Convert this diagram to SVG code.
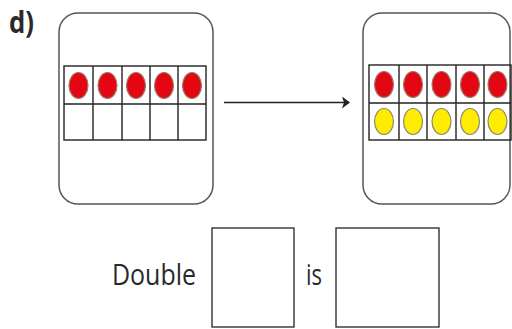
<svg xmlns="http://www.w3.org/2000/svg" width="512" height="329" viewBox="0 0 512 329">
<style>
.card{fill:#fff;stroke:#555;stroke-width:1.5}
.grid{fill:none;stroke:#222;stroke-width:1.4}
.red{fill:#e30613;stroke:#9a7a6a;stroke-width:1.2}
.yel{fill:#ffec00;stroke:#8a8a70;stroke-width:1.2}
.box{fill:#fff;stroke:#333;stroke-width:1.4}
.lbl{font-family:"Open Sans","DejaVu Sans",sans-serif;fill:#2a2a2a}
</style>
<defs>
<marker id="ah" markerWidth="8" markerHeight="12" refX="7" refY="6" orient="auto" markerUnits="userSpaceOnUse">
<path d="M0,0 L8,6 L0,12 L2,6 Z" fill="#222"/>
</marker>
</defs>
<rect width="512" height="329" fill="#fff"/>
<text class="lbl" x="9" y="33" font-size="30" font-weight="bold" textLength="25" lengthAdjust="spacingAndGlyphs">d)</text>

<g id="left-card">
<rect class="card" x="59" y="13" width="154" height="191" rx="19"/>
<rect class="grid" x="64" y="66" width="142" height="74"/>
<path class="grid" d="M64,104H206M93,66V140M122,66V140M150,66V140M178,66V140"/>
<ellipse class="red" cx="78.5" cy="85.5" rx="9.5" ry="13"/>
<ellipse class="red" cx="107.5" cy="85.5" rx="9.5" ry="13"/>
<ellipse class="red" cx="136" cy="85.5" rx="9.5" ry="13"/>
<ellipse class="red" cx="164" cy="85.5" rx="9.5" ry="13"/>
<ellipse class="red" cx="192" cy="85.5" rx="9.5" ry="13"/>
</g>

<g id="right-card">
<rect class="card" x="363" y="13" width="147" height="191" rx="19"/>
<rect class="grid" x="369" y="65" width="142" height="75"/>
<path class="grid" d="M369,103H511M399,65V140M427,65V140M456,65V140M484,65V140"/>
<ellipse class="red" cx="384" cy="84.5" rx="9.5" ry="13"/>
<ellipse class="red" cx="413" cy="84.5" rx="9.5" ry="13"/>
<ellipse class="red" cx="441.5" cy="84.5" rx="9.5" ry="13"/>
<ellipse class="red" cx="470" cy="84.5" rx="9.5" ry="13"/>
<ellipse class="red" cx="497.5" cy="84.5" rx="9.5" ry="13"/>
<ellipse class="yel" cx="384" cy="121.5" rx="9.5" ry="13"/>
<ellipse class="yel" cx="413" cy="121.5" rx="9.5" ry="13"/>
<ellipse class="yel" cx="441.5" cy="121.5" rx="9.5" ry="13"/>
<ellipse class="yel" cx="470" cy="121.5" rx="9.5" ry="13"/>
<ellipse class="yel" cx="497.5" cy="121.5" rx="9.5" ry="13"/>
</g>

<g id="connectors">
<line x1="224" y1="102.5" x2="349" y2="102.5" stroke="#222" stroke-width="1.6" marker-end="url(#ah)"/>
</g>

<g id="sentence">
<text class="lbl" x="112" y="285" font-size="30" textLength="84" lengthAdjust="spacingAndGlyphs">Double</text>
<rect class="box" x="212" y="228" width="82" height="99"/>
<text class="lbl" x="306" y="285" font-size="30" textLength="16" lengthAdjust="spacingAndGlyphs">is</text>
<rect class="box" x="336" y="228" width="103" height="99"/>
</g>
</svg>
